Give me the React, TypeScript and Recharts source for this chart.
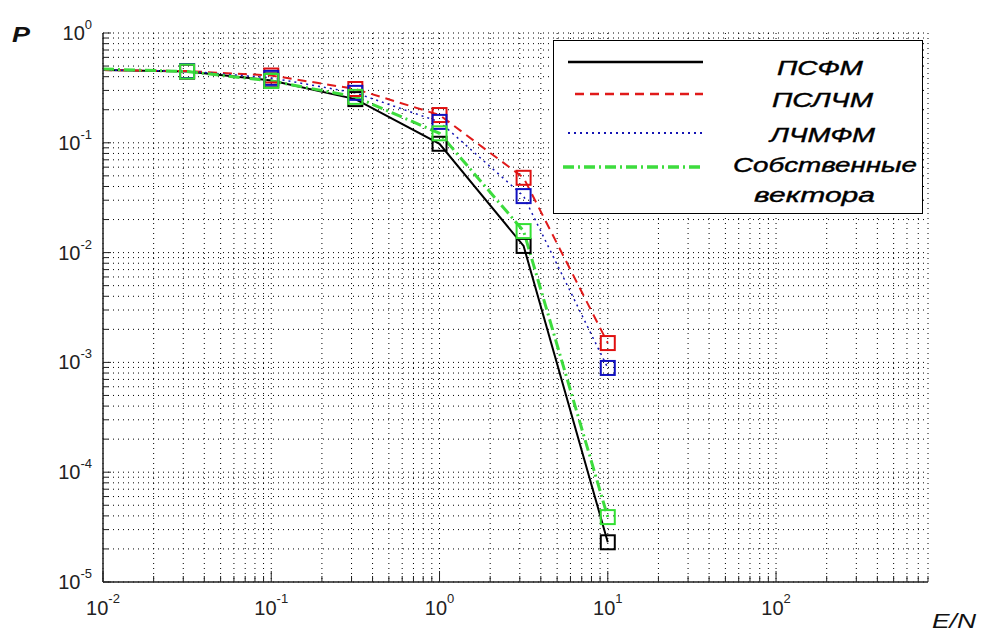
import React from 'react';
import { LineChart, Line, XAxis, YAxis, CartesianGrid, Legend } from 'recharts';

// ---- data ----
const xValues = [0.01, 0.0316, 0.1, 0.316, 1, 3.16, 10];
const psfm = [0.46, 0.445, 0.37, 0.25, 0.098, 0.0115, 2.3e-5];
const pslchm = [0.46, 0.45, 0.41, 0.309, 0.179, 0.048, 0.0015];
const lchmfm = [0.46, 0.45, 0.39, 0.285, 0.155, 0.0327, 0.00089];
const sobstv = [0.47, 0.446, 0.366, 0.262, 0.122, 0.0157, 3.9e-5];

const seriesNames = ['ПСФМ', 'ПСЛЧМ', 'ЛЧМФМ', 'Собственные вектора'];
const legendLines = [['ПСФМ'], ['ПСЛЧМ'], ['ЛЧМФМ'], ['Собственные', 'вектора']];

const xDecades = [-2, -1, 0, 1, 2];
const xLastMultiplier = 8;
const yDecades = [-5, -4, -3, -2, -1];
const yTopTick = 1;
const multipliers = [1, 2, 3, 4, 5, 6, 7, 8, 9];

const xTicks: number[] = [];
xDecades.forEach((d, i) => {
  multipliers.forEach((m) => {
    if (i === xDecades.length - 1 && m > xLastMultiplier) return;
    xTicks.push(parseFloat((m * Math.pow(10, d)).toPrecision(6)));
  });
});
const yTicks: number[] = [];
yDecades.forEach((d) => {
  multipliers.forEach((m) => yTicks.push(parseFloat((m * Math.pow(10, d)).toPrecision(6))));
});
yTicks.push(yTopTick);

const data = xValues.map((x, i) => ({
  x,
  psfm: psfm[i],
  pslchm: pslchm[i],
  lchmfm: lchmfm[i],
  sobstv: sobstv[i],
}));

const FONT = '"Liberation Sans", Arial, Helvetica, sans-serif';

const styles = [
  { key: 'psfm', color: '#000000', width: 2, dash: undefined as string | undefined },
  { key: 'pslchm', color: '#e01a1a', width: 2, dash: '9 6' },
  { key: 'lchmfm', color: '#1414b4', width: 1.5, dash: '2 4' },
  { key: 'sobstv', color: '#3ddc3d', width: 3, dash: '11 4 2 4' },
];
const markerColors = ['#000000', '#e01010', '#1010c0', '#33e033'];

const isMajor = (v: number) => {
  const e = Math.log10(v);
  return Math.abs(e - Math.round(e)) < 1e-6;
};

const XTick = (props: any) => {
  const { x, y, payload } = props;
  const v = payload.value;
  const major = isMajor(v);
  return (
    <g>
      <line x1={x} x2={x} y1={y} y2={y - (major ? 11 : 6)} stroke="#222" strokeWidth={1} />
      {major && (
        <text x={x} y={y + 33} textAnchor="middle" fontFamily={FONT} fontSize={20} fill="#222">
          <tspan>10</tspan>
          <tspan dy={-12} fontSize={13}>{Math.round(Math.log10(v))}</tspan>
        </text>
      )}
    </g>
  );
};

const YTick = (props: any) => {
  const { x, y, payload } = props;
  const v = payload.value;
  const major = isMajor(v);
  return (
    <g>
      <line x1={x} x2={x + (major ? 8 : 5)} y1={y} y2={y} stroke="#222" strokeWidth={1} />
      {major && (
        <text x={x - 11} y={y + 7} textAnchor="end" fontFamily={FONT} fontSize={20} fill="#222">
          <tspan>10</tspan>
          <tspan dy={-11} fontSize={13}>{Math.round(Math.log10(v))}</tspan>
        </text>
      )}
    </g>
  );
};

const makeDot = (color: string) => (props: any) => {
  const { cx, cy, payload, index } = props;
  if (payload.x === xValues[0] || cx == null || cy == null) return <g key={`d${index}`} />;
  return (
    <rect key={`d${index}`} x={cx - 7} y={cy - 7} width={14} height={14} fill="none" stroke={color} strokeWidth={2} />
  );
};

const PLabel = () => (
  <text x={12} y={42} fontFamily={FONT} fontStyle="italic" fontWeight="bold" fontSize={22} fill="#111" textLength={18} lengthAdjust="spacingAndGlyphs">
    P
  </text>
);
const ENLabel = () => (
  <text x={932} y={628} fontFamily={FONT} fontStyle="italic" fontSize={20} fill="#111" textLength={44} lengthAdjust="spacingAndGlyphs">
    E/N
  </text>
);

const legendSample = [
  { y: 22, x1: 15 },
  { y: 54, x1: 22 },
  { y: 93, x1: 15 },
  { y: 127, x1: 10 },
];
const legendText = [
  [{ x: 224, y: 35, w: 86 }],
  [{ x: 219, y: 67, w: 101 }],
  [{ x: 217, y: 102, w: 105 }],
  [{ x: 180, y: 132, w: 184 }, { x: 201, y: 162, w: 121 }],
];

const LegendBox = () => (
  <svg width={370} height={174} style={{ display: 'block' }}>
    <rect x={0.5} y={0.5} width={369} height={173} fill="#fff" stroke="#000" strokeWidth={1} />
    {styles.map((s, i) => (
      <line key={s.key} x1={legendSample[i].x1} x2={150} y1={legendSample[i].y} y2={legendSample[i].y} stroke={s.color} strokeWidth={s.width + 0.5} strokeDasharray={s.dash} />
    ))}
    {legendLines.map((lines, i) =>
      lines.map((t, j) => (
        <text key={`${i}-${j}`} x={legendText[i][j].x} y={legendText[i][j].y} fontFamily={FONT} fontStyle="italic" fontSize={20} fill="#000" stroke="#000" strokeWidth={0.4} textLength={legendText[i][j].w} lengthAdjust="spacingAndGlyphs">
          {t}
        </text>
      ))
    )}
  </svg>
);

export default function App() {
  return (
    <div style={{ position: 'absolute', left: 0, top: 0, width: 982, height: 634, background: '#fff' }}>
      <LineChart width={982} height={634} data={data} margin={{ top: 33, right: 54, bottom: 0, left: 0 }}>
        <CartesianGrid stroke="#000" strokeDasharray="1 4" strokeWidth={1} />
        <XAxis
          dataKey="x"
          type="number"
          scale="log"
          domain={[0.01, 800]}
          allowDataOverflow
          ticks={xTicks}
          interval={0}
          tickSize={0}
          tickMargin={0}
          tickLine={false}
          tick={<XTick />}
          height={52}
          axisLine={{ stroke: '#222', strokeWidth: 1.5 }}
          label={<ENLabel />}
        />
        <YAxis
          type="number"
          scale="log"
          domain={[1e-5, 1]}
          allowDataOverflow
          ticks={yTicks}
          interval={0}
          tickSize={0}
          tickMargin={0}
          tickLine={false}
          tick={<YTick />}
          width={103}
          axisLine={{ stroke: '#222', strokeWidth: 1.5 }}
          label={<PLabel />}
        />
        {styles.map((s, i) => (
          <Line
            key={s.key}
            dataKey={s.key}
            name={seriesNames[i]}
            type="linear"
            stroke={s.color}
            strokeWidth={s.width}
            strokeDasharray={s.dash}
            dot={makeDot(markerColors[i])}
            activeDot={false}
            isAnimationActive={false}
          />
        ))}
        <Legend
          layout="horizontal"
          verticalAlign="middle"
          align="center"
          wrapperStyle={{ left: 553, top: 40, width: 370, height: 174 }}
          content={() => <LegendBox />}
        />
      </LineChart>
    </div>
  );
}
